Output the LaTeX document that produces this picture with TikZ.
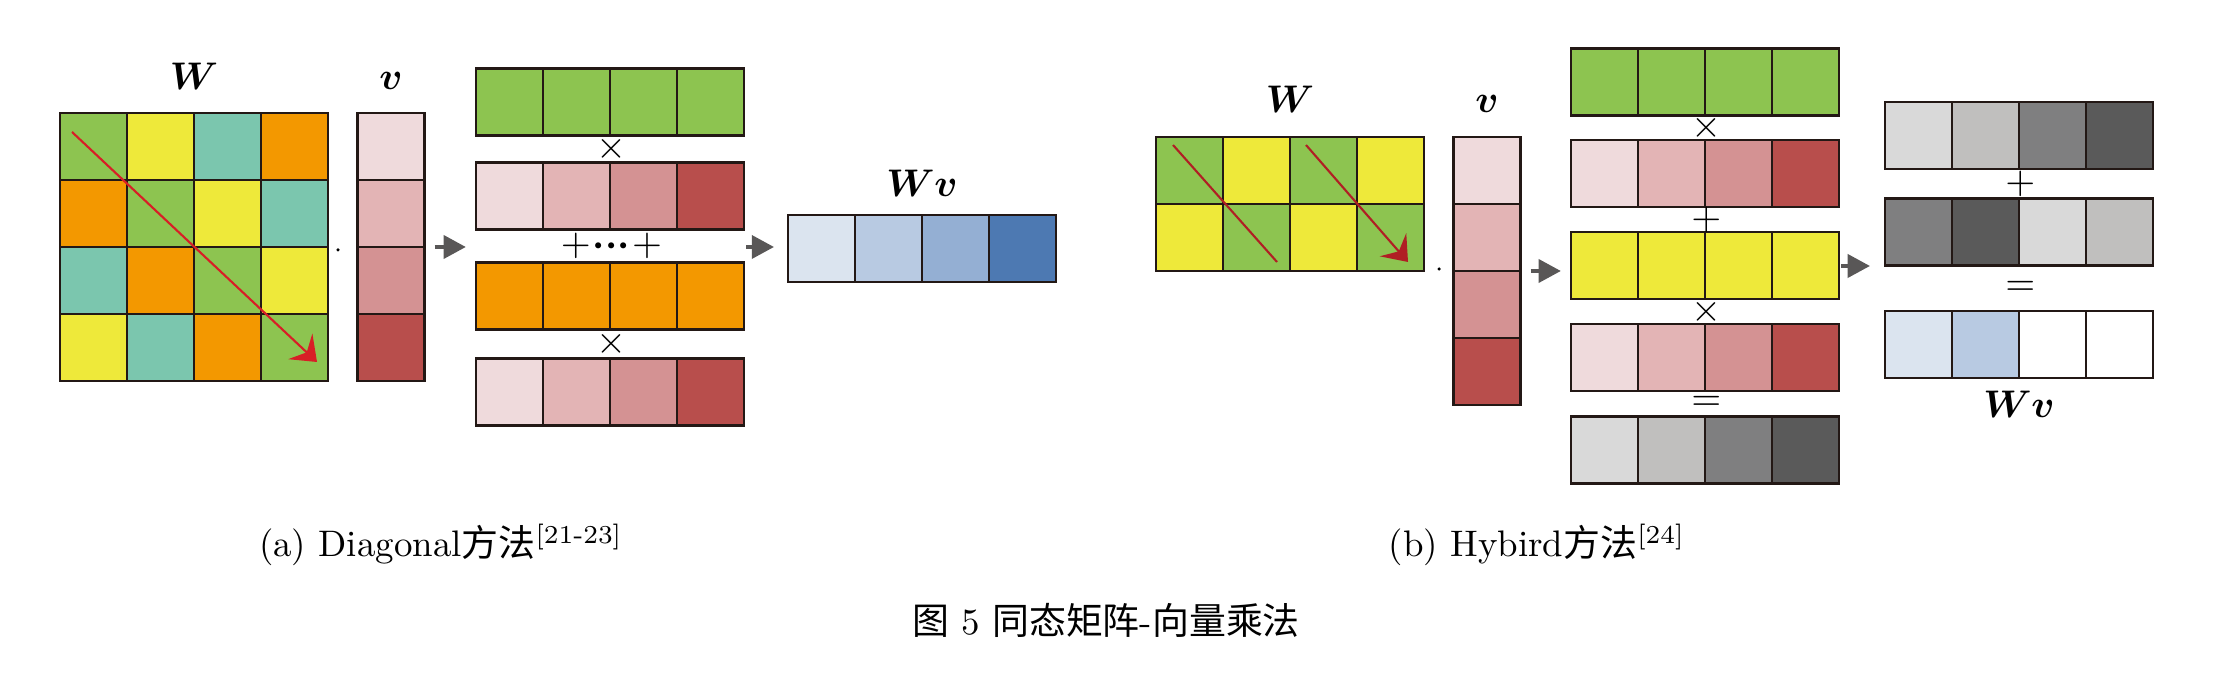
\documentclass[tikz,border=0pt]{standalone}
\usepackage{amsmath}
\usepackage{fontspec}
\newfontfamily\cjk{Noto Sans CJK SC}
\usepackage{xcolor}
\usetikzlibrary{arrows.meta, positioning, calc, fit}

\definecolor{wgreen}{HTML}{8DC450}
\definecolor{wyellow}{HTML}{EEE93A}
\definecolor{wteal}{HTML}{7BC6AE}
\definecolor{worange}{HTML}{F39800}
\definecolor{vpink1}{HTML}{EFDADC}
\definecolor{vpink2}{HTML}{E3B4B5}
\definecolor{vpink3}{HTML}{D49293}
\definecolor{vpink4}{HTML}{B84E4C}
\definecolor{rblue1}{HTML}{DBE4EF}
\definecolor{rblue2}{HTML}{B8CAE2}
\definecolor{rblue3}{HTML}{94AFD3}
\definecolor{rblue4}{HTML}{4D79B2}
\definecolor{pgray1}{HTML}{D9D9D9}
\definecolor{pgray2}{HTML}{C0BFBE}
\definecolor{pgray3}{HTML}{7F7F80}
\definecolor{pgray4}{HTML}{5A5A5A}
\definecolor{cellline}{HTML}{231815}
\definecolor{flowgray}{HTML}{595757}
\definecolor{diagred}{HTML}{D81E26}
\definecolor{diagdark}{HTML}{B01F24}

\begin{document}
\begin{tikzpicture}[
    x=0.01cm, y=-0.01cm,
    font=\fontsize{10.5}{12.6}\selectfont,
    cell/.style={rectangle, draw=cellline, line width=0.8pt, minimum width=0.67cm, minimum height=0.67cm, inner sep=0pt, fill=#1},
    block/.style={fit=#1, inner sep=0pt},
    op/.style={inner sep=0pt},
    lbl/.style={anchor=base},
    dotnode/.style={circle, fill=black, inner sep=0pt, minimum size=0.035cm},
    flow/.style={draw=flowgray, line width=0.9pt, -{Triangle[length=6.3pt, width=6.6pt]}},
    diag/.style={draw=#1, line width=0.6pt}
]
\useasboundingbox (0,0) rectangle (2224,686);

% (a) Diagonal
\foreach \cols [count=\r] in {{wgreen,wyellow,wteal,worange},{worange,wgreen,wyellow,wteal},{wteal,worange,wgreen,wyellow},{wyellow,wteal,worange,wgreen}}
  \foreach \f [count=\c] in \cols
    \node[cell=\f] (aw-\r-\c) at ({93.5+67*(\c-1)}, {146.5+67*(\r-1)}) {};
\foreach \f [count=\r] in {vpink1,vpink2,vpink3,vpink4}
  \node[cell=\f] (av-\r) at (391, {146.5+67*(\r-1)}) {};
\node[block={(av-1)(av-4)}] (av) {};
\node[lbl] (aw-lab) at (194,90) {$\boldsymbol{W}$};
\node[lbl] (av-lab) at (391,90) {$\boldsymbol{v}$};
\node[dotnode] (a-dot) at (338,250) {};
\coordinate (ad-s) at (72,132);
\coordinate (ad-e) at (317,362);
\draw[diag=diagred, -{Stealth[length=6.5pt, width=10pt, inset=2.5pt]}] (ad-s) -- (ad-e);

\foreach \f [count=\c] in {wgreen,wgreen,wgreen,wgreen}
  \node[cell=\f] (as-1-\c) at ({509.5+67*(\c-1)}, 102) {};
\foreach \f [count=\c] in {vpink1,vpink2,vpink3,vpink4}
  \node[cell=\f] (as-2-\c) at ({509.5+67*(\c-1)}, 196) {};
\foreach \f [count=\c] in {worange,worange,worange,worange}
  \node[cell=\f] (as-3-\c) at ({509.5+67*(\c-1)}, 296) {};
\foreach \f [count=\c] in {vpink1,vpink2,vpink3,vpink4}
  \node[cell=\f] (as-4-\c) at ({509.5+67*(\c-1)}, 392) {};
\node[block={(as-1-1)(as-4-4)}] (as) {};
\node[op] (a-op1) at ($(as-1-2.south east)!0.5!(as-2-2.north east)$) {$\times$};
\node[op] (a-op2) at ($(as-2-2.south east)!0.5!(as-3-2.north east)$) {${+}\mkern1mu{\boldsymbol{\cdot}}{\boldsymbol{\cdot}}{\boldsymbol{\cdot}}\mkern1mu{+}$};
\node[op] (a-op3) at ($(as-3-2.south east)!0.5!(as-4-2.north east)$) {$\times$};

\foreach \f [count=\c] in {rblue1,rblue2,rblue3,rblue4}
  \node[cell=\f] (awv-\c) at ({821.5+67*(\c-1)}, 248.5) {};
\node[block={(awv-1)(awv-4)}] (awv) {};
\node[lbl] (awv-lab) at (922,197) {$\boldsymbol{Wv}$};

\draw[flow, shorten <=2.3pt, shorten >=2.3pt] (av.east) -- (av.east -| as.west);
\draw[flow, shorten >=3.4pt] (as.east) -- (as.east -| awv.west);

\node[lbl] (a-cap) at (441,557) {(a) Diagonal{\cjk 方法}\textsuperscript{[21-23]}};

% (b) Hybird
\foreach \cols [count=\r] in {{wgreen,wyellow,wgreen,wyellow},{wyellow,wgreen,wyellow,wgreen}}
  \foreach \f [count=\c] in \cols
    \node[cell=\f] (bw-\r-\c) at ({1189.5+67*(\c-1)}, {170.5+67*(\r-1)}) {};
\foreach \f [count=\r] in {vpink1,vpink2,vpink3,vpink4}
  \node[cell=\f] (bv-\r) at (1487, {170.5+67*(\r-1)}) {};
\node[block={(bv-1)(bv-4)}] (bv) {};
\node[lbl] (bw-lab) at (1290,113) {$\boldsymbol{W}$};
\node[lbl] (bv-lab) at (1487,113) {$\boldsymbol{v}$};
\node[dotnode] (b-dot) at (1439,269) {};
\coordinate (bd1-s) at (1173,145);
\coordinate (bd1-e) at (1277,262);
\coordinate (bd2-s) at (1306,145);
\coordinate (bd2-e) at (1408,262);
\draw[diag=diagdark] (bd1-s) -- (bd1-e);
\draw[diag=diagdark, -{Stealth[length=6.5pt, width=10pt, inset=2.5pt]}] (bd2-s) -- (bd2-e);

\foreach \f [count=\c] in {wgreen,wgreen,wgreen,wgreen}
  \node[cell=\f] (bs-1-\c) at ({1604.5+67*(\c-1)}, 82) {};
\foreach \f [count=\c] in {vpink1,vpink2,vpink3,vpink4}
  \node[cell=\f] (bs-2-\c) at ({1604.5+67*(\c-1)}, 173.5) {};
\foreach \f [count=\c] in {wyellow,wyellow,wyellow,wyellow}
  \node[cell=\f] (bs-3-\c) at ({1604.5+67*(\c-1)}, 265.5) {};
\foreach \f [count=\c] in {vpink1,vpink2,vpink3,vpink4}
  \node[cell=\f] (bs-4-\c) at ({1604.5+67*(\c-1)}, 357.5) {};
\foreach \f [count=\c] in {pgray1,pgray2,pgray3,pgray4}
  \node[cell=\f] (bs-5-\c) at ({1604.5+67*(\c-1)}, 450) {};
\node[block={(bs-1-1)(bs-5-4)}] (bs) {};
\node[op] (b-op1) at ($(bs-1-2.south east)!0.5!(bs-2-2.north east)$) {$\times$};
\node[op] (b-op2) at ($(bs-2-2.south east)!0.5!(bs-3-2.north east)$) {$+$};
\node[op] (b-op3) at ($(bs-3-2.south east)!0.5!(bs-4-2.north east)$) {$\times$};
\node[op] (b-op4) at ($(bs-4-2.south east)!0.5!(bs-5-2.north east)$) {$=$};

\foreach \f [count=\c] in {pgray1,pgray2,pgray3,pgray4}
  \node[cell=\f] (br-1-\c) at ({1918.5+67*(\c-1)}, 135.5) {};
\foreach \f [count=\c] in {pgray3,pgray4,pgray1,pgray2}
  \node[cell=\f] (br-2-\c) at ({1918.5+67*(\c-1)}, 232) {};
\foreach \f [count=\c] in {rblue1,rblue2,white,white}
  \node[cell=\f] (br-3-\c) at ({1918.5+67*(\c-1)}, 344.5) {};
\node[block={(br-1-1)(br-3-4)}] (br) {};
\node[op] (b-op5) at ($(br-1-2.south east)!0.5!(br-2-2.north east)$) {$+$};
\node[op] (b-op6) at ($(br-2-2.south east)!0.5!(br-3-2.north east)$) {$=$};
\node[lbl] (bwv-lab) at (2019,418) {$\boldsymbol{Wv}$};

\draw[flow, shorten <=2.3pt, shorten >=2.3pt] (bv.east) -- (bv.east -| bs.west);
\draw[flow, shorten >=3.7pt] (bs.east) -- (bs.east -| br.west);

\node[lbl] (b-cap) at (1537,557) {(b) Hybird{\cjk 方法}\textsuperscript{[24]}};

% caption
\node[lbl] (fig-cap) at (1106,635) {{\cjk 图} 5 {\cjk 同态矩阵}-{\cjk 向量乘法}};
\end{tikzpicture}
\end{document}
